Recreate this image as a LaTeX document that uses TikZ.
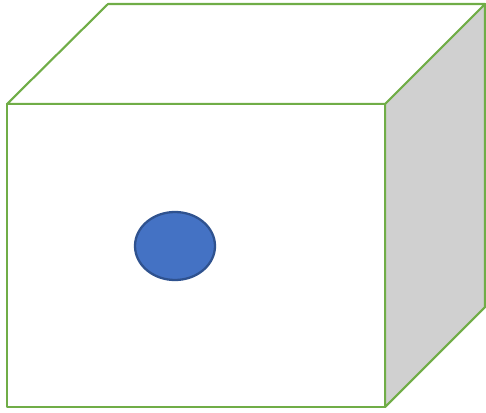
\documentclass[tikz,border=0pt]{standalone}
\usepackage{tikz}
\usetikzlibrary{shapes.geometric}
\definecolor{edge}{RGB}{112,173,71}
\definecolor{side}{RGB}{208,208,208}
\definecolor{dot}{RGB}{68,114,196}
\definecolor{dotline}{RGB}{47,82,143}

\begin{document}
\begin{tikzpicture}[
  x=0.02cm, y=-0.02cm,
  face/.style={draw=edge, line width=1.2pt, line join=round},
  marker/.style={ellipse, draw=dotline, fill=dot, line width=1.3pt,
                 minimum width=80*0.02cm, minimum height=68*0.02cm, inner sep=0pt},
]
\useasboundingbox (0,0) rectangle (486,412);
% corners of the box
\coordinate (fl) at (7,104);
\coordinate (fr) at (385,104);
\coordinate (bl) at (385,407);
\coordinate (bb) at (7,407);
\coordinate (tl) at (108,4);
\coordinate (tr) at (485,4);
\coordinate (rb) at (485,307);

% side, top and front faces
\draw[face, fill=side] (fr) -- (tr) -- (rb) -- (bl) -- cycle;
\draw[face, fill=white] (fl) -- (tl) -- (tr) -- (fr) -- cycle;
\draw[face, fill=white] (fl) -- (fr) -- (bl) -- (bb) -- cycle;

\node[marker] (spot) at (175,246) {};
\end{tikzpicture}
\end{document}
